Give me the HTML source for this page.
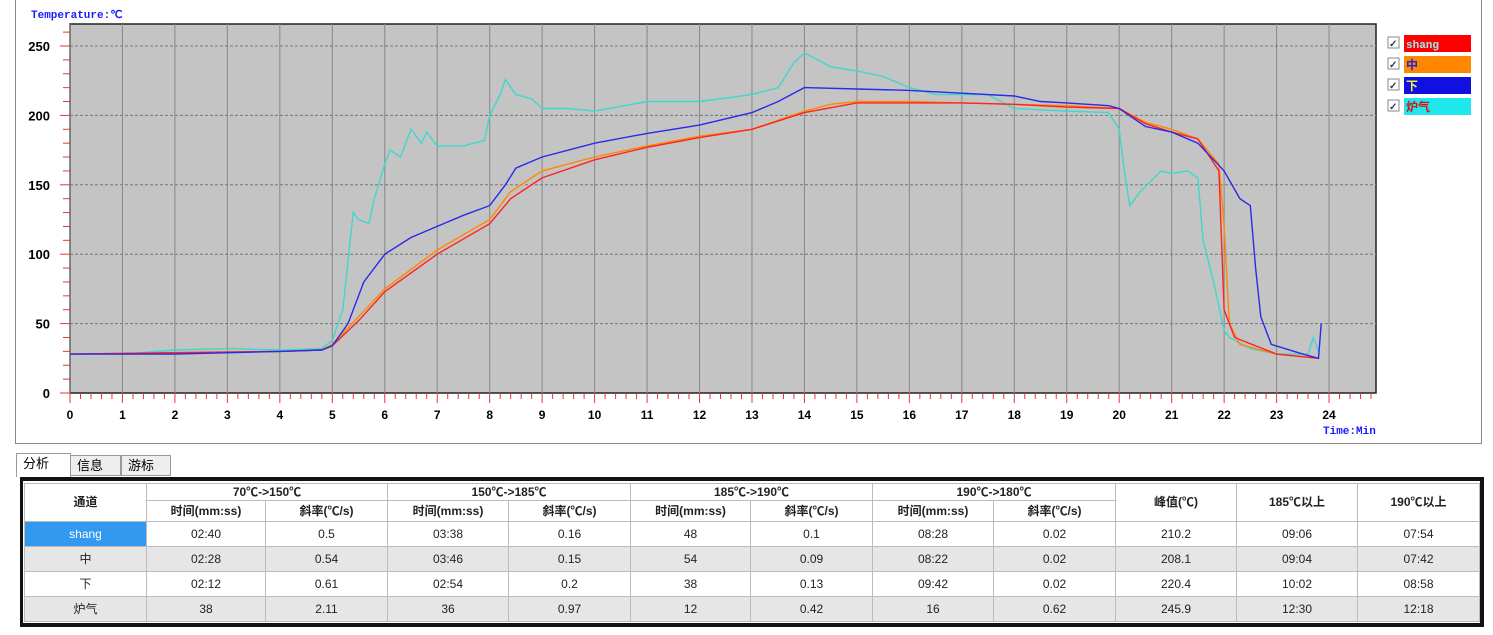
<!DOCTYPE html>
<html><head><meta charset="utf-8"><style>
body{margin:0;width:1493px;height:635px;background:#fff;position:relative;overflow:hidden;font-family:"Liberation Sans","Noto Sans CJK SC",sans-serif;}
.frame{position:absolute;left:15px;top:0;width:1467px;height:444px;border:1px solid #888;border-top:none;background:#fff;box-sizing:border-box}
.tab{position:absolute;top:455px;height:21px;border:1px solid #999;background:#eee;font-size:13px;line-height:20px;padding-left:6px;box-sizing:border-box}
table{position:absolute;left:24px;top:483px;border-collapse:collapse;table-layout:fixed;font-size:12px;color:#222}
.wrap{position:absolute;left:20px;top:477px;width:1464px;height:150px;border:4px solid #111;border-left-width:3px;box-sizing:border-box}
td{border:1px solid #bbb;text-align:center;padding:0;line-height:13px;overflow:hidden}
tr.d td{height:24px}
.h td{font-weight:bold;background:#fff}
</style></head><body>
<div class="frame"></div>
<svg style="position:absolute;left:0;top:0" width="1493" height="450" id="s">
<text x="31" y="18" font-family="Liberation Mono,monospace" font-size="11" font-weight="bold" fill="#1a1aff">Temperature:℃</text>
<rect x="70" y="24" width="1306" height="369" fill="#c4c4c4" stroke="#222" stroke-width="1.5"/>
<g id="g"></g>
<text x="1323" y="434" font-family="Liberation Mono,monospace" font-size="11" font-weight="bold" fill="#1a1aff">Time:Min</text>
<g font-size="13" font-weight="bold" fill="#111" font-family="Liberation Sans,sans-serif">
<rect x="1388" y="37" width="11" height="11" fill="#fff" stroke="#888"/><rect x="1388" y="58" width="11" height="11" fill="#fff" stroke="#888"/><rect x="1388" y="79" width="11" height="11" fill="#fff" stroke="#888"/><rect x="1388" y="100" width="11" height="11" fill="#fff" stroke="#888"/>
<text x="1389" y="47" font-size="10" fill="#336">✓</text><text x="1389" y="68" font-size="10" fill="#336">✓</text><text x="1389" y="89" font-size="10" fill="#336">✓</text><text x="1389" y="110" font-size="10" fill="#336">✓</text>
<rect x="1404" y="35" width="67" height="17" fill="#f00"/><rect x="1404" y="56" width="67" height="17" fill="#f80"/><rect x="1404" y="77" width="67" height="17" fill="#1010e0"/><rect x="1404" y="98" width="67" height="17" fill="#1ee8ee"/>
<text x="1406" y="48" font-size="11" fill="#9ee" font-family="Liberation Mono,monospace">shang</text>
<text x="1406" y="69" font-size="12" fill="#22d" font-family="Noto Sans CJK SC">中</text>
<text x="1406" y="90" font-size="12" fill="#ee4" font-family="Noto Sans CJK SC">下</text>
<text x="1406" y="111" font-size="12" fill="#d11" font-family="Noto Sans CJK SC">炉气</text>
</g>
</svg>
<div class="tab" style="left:16px;width:55px;top:453px;height:24px;background:#fff;border-bottom:none">分析</div>
<div class="tab" style="left:70px;width:51px">信息</div>
<div class="tab" style="left:121px;width:50px">游标</div>
<div class="wrap"></div>
<table style="width:1455px">
<colgroup><col style="width:122px"><col style="width:119px"><col style="width:122px"><col style="width:121px"><col style="width:122px"><col style="width:120px"><col style="width:122px"><col style="width:121px"><col style="width:122px"><col style="width:121px"><col style="width:121px"><col style="width:122px"></colgroup>
<tr class="h" style="height:17px"><td rowspan="2">通道</td><td colspan="2" style="height:16px">70℃->150℃</td><td colspan="2">150℃->185℃</td><td colspan="2">185℃->190℃</td><td colspan="2">190℃->180℃</td><td rowspan="2">峰值(℃)</td><td rowspan="2">185℃以上</td><td rowspan="2">190℃以上</td></tr>
<tr class="h" style="height:21px"><td style="height:20px">时间(mm:ss)</td><td>斜率(℃/s)</td><td>时间(mm:ss)</td><td>斜率(℃/s)</td><td>时间(mm:ss)</td><td>斜率(℃/s)</td><td>时间(mm:ss)</td><td>斜率(℃/s)</td></tr>
<tr class="d"><td style="background:#3399ee;color:#fff">shang</td><td>02:40</td><td>0.5</td><td>03:38</td><td>0.16</td><td>48</td><td>0.1</td><td>08:28</td><td>0.02</td><td>210.2</td><td>09:06</td><td>07:54</td></tr>
<tr class="d" style="background:#e6e6e6"><td>中</td><td>02:28</td><td>0.54</td><td>03:46</td><td>0.15</td><td>54</td><td>0.09</td><td>08:22</td><td>0.02</td><td>208.1</td><td>09:04</td><td>07:42</td></tr>
<tr class="d"><td>下</td><td>02:12</td><td>0.61</td><td>02:54</td><td>0.2</td><td>38</td><td>0.13</td><td>09:42</td><td>0.02</td><td>220.4</td><td>10:02</td><td>08:58</td></tr>
<tr class="d" style="background:#e6e6e6"><td>炉气</td><td>38</td><td>2.11</td><td>36</td><td>0.97</td><td>12</td><td>0.42</td><td>16</td><td>0.62</td><td>245.9</td><td>12:30</td><td>12:18</td></tr>
</table>
<script>
var X=t=>70+t*52.46,Y=v=>393-v*1.388,h='';
for(var i=0;i<=24;i++){var x=X(i);h+=`<line x1="${x}" y1="24" x2="${x}" y2="393" stroke="#888" stroke-width="1"/><text x="${x}" y="419" text-anchor="middle" font-size="12" font-weight="bold" font-family="Liberation Sans">${i}</text>`;}
for(var t=0;t<=24.9;t+=0.2){var x=X(t),big=Math.abs(t-Math.round(t))<0.01;h+=`<line x1="${x}" y1="393" x2="${x}" y2="${big?403:399}" stroke="#e33"/>`;}
for(var v=0;v<=260;v+=10){var y=Y(v);h+=`<line x1="${v%50?63:60}" y1="${y}" x2="70" y2="${y}" stroke="#e33"/>`;if(v%50==0){h+=`<text x="50" y="${y+5}" text-anchor="end" font-size="13" font-weight="bold" font-family="Liberation Sans">${v}</text>`;if(v>0)h+=`<line x1="70" y1="${y}" x2="1376" y2="${y}" stroke="#777" stroke-dasharray="3,2"/>`;}}
function L(d,c){var p=[];for(var i=0;i<d.length;i+=2)p.push(X(d[i]).toFixed(1)+','+Y(d[i+1]).toFixed(1));h+=`<polyline points="${p.join(' ')}" fill="none" stroke="${c}" stroke-width="1.4"/>`;}
L([0,28,1,28,2,31,3,32,4,31,4.8,32,5,38,5.2,60,5.3,95,5.4,130,5.5,125,5.7,122,5.8,140,6,165,6.1,175,6.3,170,6.5,190,6.7,180,6.8,188,7,178,7.5,178,7.9,182,8,200,8.2,215,8.3,226,8.5,215,8.8,212,9,205,9.5,205,10,203,11,210,12,210,13,215,13.5,220,13.8,238,14,245,14.5,235,15,232,15.5,228,16,220,16.5,215,17.5,215,18,205,19,203,19.8,202,20,190,20.1,160,20.2,135,20.4,145,20.8,160,21,158,21.3,160,21.5,155,21.6,110,21.8,80,22,45,22.1,40,22.5,32,23,28,23.6,28,23.7,40,23.8,30],'#3fd8cc');
L([0,28,2,29,4,30,4.8,31,5,35,5.5,55,6,75,7,103,8,125,8.4,145,9,160,10,170,11,178,12,185,13,190,14,203,14.5,208,15,210,16,210,17,209,18,208,19,207,20,205,20.5,195,21,190,21.5,183,21.9,165,22,120,22.1,50,22.3,35,23,28,23.8,25],'#f80');
L([0,28,2,29,4,30,4.8,31,5,34,5.5,52,6,73,7,100,8,122,8.4,140,9,155,10,168,11,177,12,184,13,190,14,202,15,209,16,209,17,209,18,208,19,206,20,205,20.5,194,21,188,21.5,183,21.9,160,22,60,22.2,40,23,28,23.8,25],'#f22');
L([0,28,2,28,4,30,4.8,31,5,34,5.3,50,5.6,80,6,100,6.5,112,7,120,7.5,128,8,135,8.3,150,8.5,162,9,170,10,180,11,187,12,193,13,202,13.5,210,14,220,15,219,16,218,17,216,18,214,18.5,210,19,209,19.8,207,20,205,20.5,192,21,188,21.5,180,22,160,22.3,140,22.5,135,22.6,90,22.7,55,22.9,35,23.5,28,23.8,25,23.85,50],'#2a2ae8');
document.getElementById('g').innerHTML=h;
</script>
</body></html>
